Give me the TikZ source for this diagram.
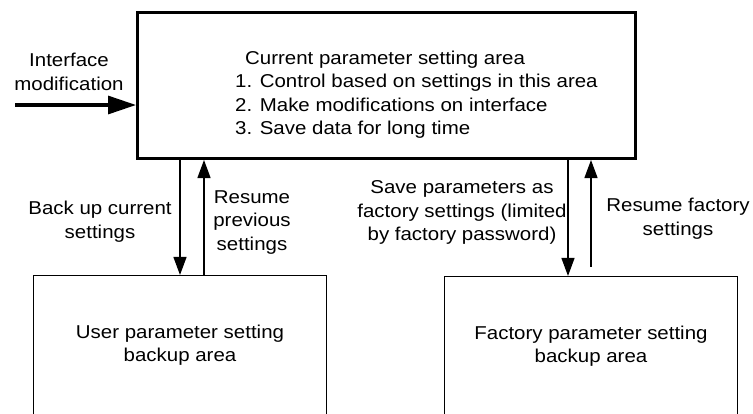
\documentclass[tikz,border=0pt]{standalone}
\usepackage{fontspec}
\setmainfont[FakeStretch=1.1]{Liberation Sans}
\usetikzlibrary{positioning, arrows.meta}
\tikzstyle{mainarea} = [rectangle, draw=black, line width=3pt, minimum width=498pt, minimum height=146pt]
\tikzstyle{backuparea} = [rectangle, draw=black, line width=1.3pt, minimum width=293pt, minimum height=139.4pt, text centered, align=center]
\tikzstyle{note} = [align=center, inner sep=0pt]
\tikzstyle{arrow} = [line width=1.3pt, -{Triangle[length=18pt,width=13pt]}]
\tikzstyle{bigarrow} = [line width=3.2pt, -{Triangle[length=28pt,width=18pt]}]

\begin{document}
\begin{tikzpicture}[x=1pt, y=-1pt, font=\fontsize{18.6}{23.5}\selectfont]
			\useasboundingbox (0,0) rectangle (753,413);
			\clip (0,0) rectangle (753,413);
			
			% the three storage areas
			\node (current) [mainarea] at (386.5,85.5) {};
			\node (currenttext) [anchor=west, align=left, inner sep=0pt] at (235,94.5) {\hspace*{10pt}Current parameter setting area\\1. Control based on settings in this area\\2. Make modifications on interface\\3. Save data for long time};
			\node (user) [backuparea] at (180,345.3) {User parameter setting\\backup area};
			\node (factory) [backuparea] at (591,346.3) {Factory parameter setting\\backup area};
			
			% input from the interface
			\coordinate (iface) at (15,105);
			\node (ifacetext) [note] at (69,72) {Interface\\modification};
			\draw [bigarrow] (iface) -- (iface -| current.west);
			
			% user backup
			\coordinate (userup) at ([xshift=24pt]user.north);
			\draw [arrow] (user.north |- current.south) -- (user.north);
			\draw [arrow] (userup) -- (userup |- current.south);
			\node (backuptext) [note] at (100,221.5) {Back up current\\settings};
			\node (resumetext) [note] at (252,222.5) {Resume\\previous\\settings};
			
			% factory backup
			\coordinate (factorydown) at ([xshift=-23pt]factory.north);
			\coordinate (factoryup) at ([yshift=9pt]factory.north);
			\draw [arrow] (factorydown |- current.south) -- (factorydown);
			\draw [arrow] (factoryup) -- (factoryup |- current.south);
			\node (savetext) [note] at (462,212.5) {Save parameters as\\factory settings (limited\\by factory password)};
			\node (resumefactorytext) [note] at (678,218.5) {Resume factory\\settings};
			
		\end{tikzpicture}
\end{document}
